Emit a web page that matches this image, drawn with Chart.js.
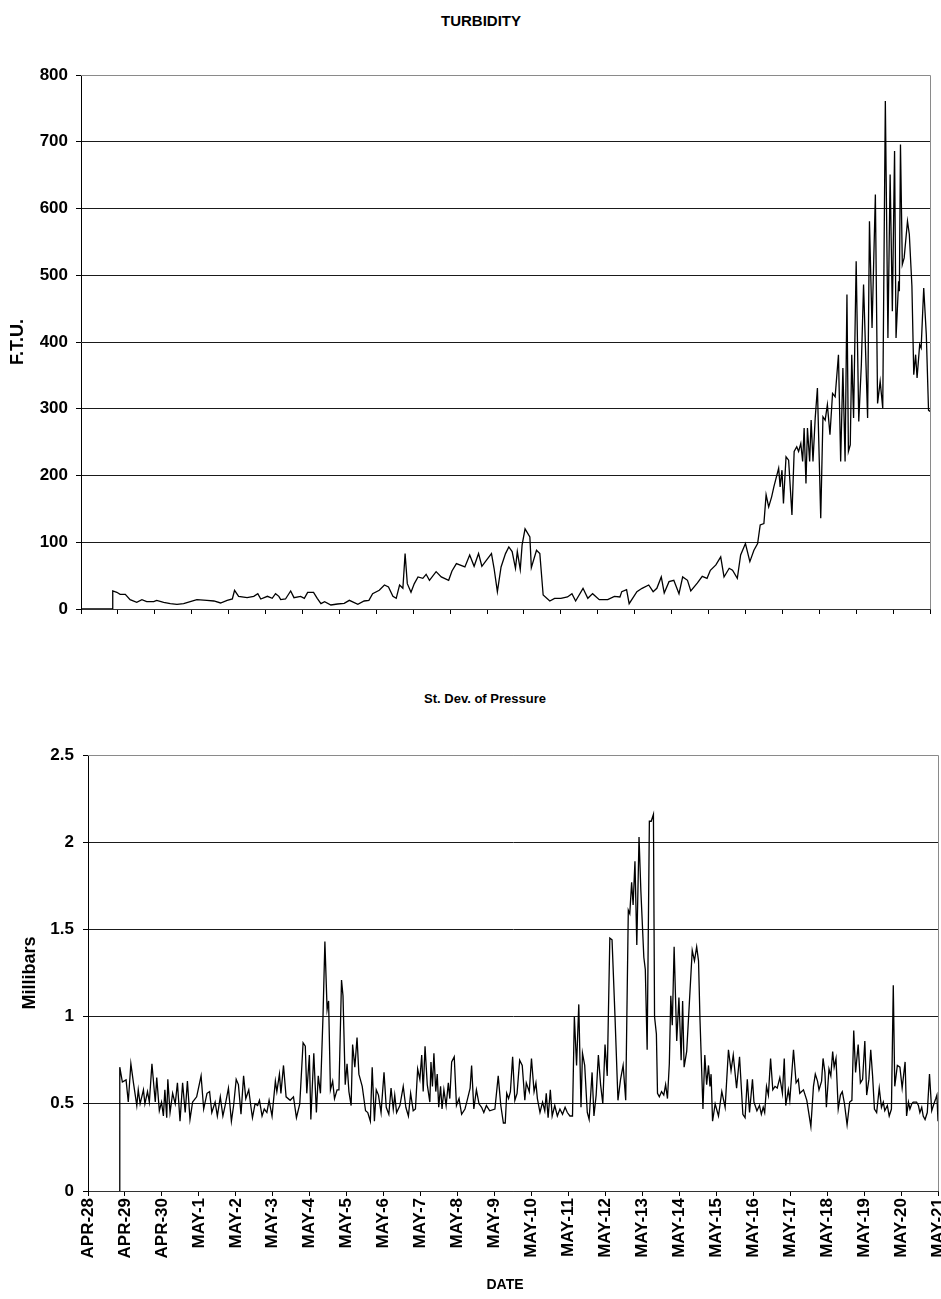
<!DOCTYPE html>
<html>
<head>
<meta charset="utf-8">
<script src="https://cdn.jsdelivr.net/npm/chart.js@4.4.1/dist/chart.umd.min.js"></script>
<style>
    body { margin: 0; background: #fff; width: 941px; height: 1299px; position: relative; overflow: hidden; }
    .titulo { position: absolute; font-family: "Liberation Sans", Arial, sans-serif; font-weight: bold; color: #000; transform: translateX(-50%); white-space: nowrap; }
    canvas { position: absolute; left: 0; }
</style>
</head>
<body>
<div class="titulo" style="left:481px; top:12px; font-size:15px;">TURBIDITY</div>
<canvas id="chart-turb" width="941" height="640" style="top:0"></canvas>
<div class="titulo" style="left:485px; top:691px; font-size:13px;">St. Dev. of Pressure</div>
<canvas id="chart-pres" width="941" height="659" style="top:640px"></canvas>
<div class="titulo" style="left:505px; top:1276px; font-size:14px;">DATE</div>

<script>
/* ============================================================
   DATOS (días desde APR-28)
============================================================ */
const DATE_LABELS = [
    "APR-28","APR-29","APR-30","MAY-1","MAY-2","MAY-3","MAY-4","MAY-5",
    "MAY-6","MAY-7","MAY-8","MAY-9","MAY-10","MAY-11","MAY-12","MAY-13",
    "MAY-14","MAY-15","MAY-16","MAY-17","MAY-18","MAY-19","MAY-20","MAY-21"
];

const TURB_DAYS = [
    0,0.84,0.86,0.97,1.06,1.2,1.33,1.51,1.65,1.78,1.97,2.05,2.24,2.42,2.6,2.78,2.96,3.14,3.41,3.6,
    3.78,3.96,4.1,4.16,4.27,4.5,4.68,4.79,4.87,5.05,5.18,5.27,5.36,5.41,5.54,5.68,5.77,5.95,6.05,6.14,
    6.3,6.4,6.5,6.6,6.77,6.95,7.13,7.27,7.5,7.67,7.8,7.9,8.08,8.22,8.33,8.45,8.54,8.63,8.72,8.78,
    8.84,8.94,9.03,9.13,9.26,9.35,9.44,9.62,9.76,9.96,10.05,10.17,10.4,10.53,10.65,10.77,10.86,10.98,11.12,11.19,
    11.28,11.38,11.5,11.59,11.68,11.77,11.82,11.9,11.95,12.03,12.16,12.2,12.34,12.43,12.52,12.7,12.83,13.0,13.18,13.3,
    13.4,13.6,13.73,13.86,14.04,14.27,14.45,14.6,14.65,14.78,14.85,15.06,15.2,15.38,15.5,15.6,15.72,15.8,15.93,16.06,
    16.2,16.3,16.43,16.52,16.7,16.83,16.96,17.05,17.2,17.33,17.42,17.56,17.65,17.78,17.87,18.0,18.12,18.23,18.33,18.4,
    18.5,18.56,18.63,18.71,18.77,18.9,18.94,18.99,19.03,19.1,19.17,19.26,19.32,19.39,19.44,19.5,19.55,19.59,19.64,19.68,
    19.74,19.78,19.83,19.89,19.95,20.04,20.1,20.16,20.22,20.29,20.36,20.43,20.52,20.58,20.64,20.7,20.75,20.79,20.84,20.88,
    20.93,21.0,21.07,21.14,21.2,21.31,21.36,21.43,21.52,21.58,21.65,21.72,21.79,21.86,21.92,21.98,22.04,22.08,22.15,22.17,
    22.2,22.25,22.3,22.39,22.44,22.51,22.56,22.61,22.65,22.72,22.76,22.83,22.9,22.96,23.0
];
const TURB_FTU = [
    0,0,27,25,22,22,14,10,14,11,11,13,10,8,7,8,11,14,13,12,
    9,13,15,28,19,17,19,23,15,19,16,23,19,14,15,27,17,19,16,25,
    25,16,8,11,6,7.5,8.5,13,7,12,13,23,28,36,33,19,16,36,31,83,
    38,25,38,48,46,52,43,56,48,43,57,68,63,81,64,83,64,73,83,61,
    26,63,83,93,86,61,86,59,96,120,108,62,88,83,21,12,16,16,18,23,
    12,31,16,23,14,14,19,18,26,29,8,26,31,36,26,31,48,24,41,43,
    23,48,43,27,39,49,46,58,66,78,48,61,58,46,81,98,71,88,98,126,
    128,171,153,168,183,211,183,208,158,228,223,141,236,243,236,248,221,271,188,271,
    221,283,221,286,331,136,288,283,306,261,323,318,381,221,361,221,471,236,246,381,
    286,521,281,366,486,286,581,421,621,308,341,301,761,406,651,446,686,406,491,476,
    696,516,526,581,561,484,351,381,346,396,391,481,411,298,296
];

const PRES_DAYS = [
    0.84,0.86,0.93,1.03,1.09,1.16,1.23,1.32,1.36,1.41,1.5,1.54,1.61,1.66,1.73,1.82,1.86,1.93,1.99,
    2.04,2.08,2.13,2.16,2.22,2.29,2.36,2.42,2.49,2.56,2.63,2.69,2.76,2.83,2.94,3.06,3.13,3.22,3.29,3.35,
    3.44,3.5,3.58,3.65,3.71,3.8,3.88,3.94,4.01,4.07,4.14,4.21,4.27,4.35,4.41,4.45,4.52,4.59,4.64,4.71,
    4.77,4.84,4.9,4.98,5.07,5.11,5.18,5.22,5.29,5.36,5.47,5.56,5.64,5.73,5.82,5.88,5.92,5.99,6.03,6.11,
    6.18,6.23,6.29,6.36,6.41,6.47,6.51,6.56,6.62,6.67,6.74,6.79,6.86,6.9,6.96,7.01,7.06,7.12,7.16,7.22,
    7.28,7.33,7.42,7.51,7.57,7.64,7.69,7.75,7.8,7.86,7.93,8.01,8.07,8.14,8.2,8.26,8.3,8.35,8.44,8.53,
    8.6,8.67,8.73,8.8,8.86,8.92,8.98,9.03,9.07,9.12,9.18,9.25,9.28,9.32,9.36,9.41,9.45,9.49,9.54,9.58,
    9.63,9.69,9.75,9.79,9.84,9.91,9.97,10.04,10.11,10.2,10.26,10.34,10.38,10.44,10.51,10.58,10.65,10.71,10.78,10.87,
    11.01,11.1,11.17,11.24,11.29,11.33,11.38,11.43,11.49,11.55,11.61,11.68,11.75,11.82,11.86,11.94,12.0,12.07,12.12,12.16,
    12.23,12.3,12.36,12.4,12.45,12.51,12.56,12.63,12.7,12.77,12.84,12.91,12.97,13.04,13.11,13.16,13.22,13.28,13.34,13.38,
    13.44,13.51,13.56,13.64,13.69,13.75,13.81,13.87,13.93,13.99,14.05,14.12,14.18,14.26,14.34,14.41,14.48,14.55,14.62,14.66,
    14.71,14.75,14.8,14.85,14.91,14.96,15.04,15.08,15.13,15.19,15.24,15.3,15.33,15.38,15.41,15.46,15.52,15.58,15.63,15.68,
    15.73,15.77,15.81,15.86,15.93,15.99,16.05,16.09,16.13,16.2,16.27,16.35,16.41,16.47,16.52,16.56,16.64,16.69,16.74,16.79,
    16.83,16.86,16.9,16.97,17.06,17.15,17.24,17.33,17.4,17.46,17.55,17.63,17.72,17.78,17.84,17.9,17.98,18.02,18.1,18.17,
    18.22,18.27,18.31,18.36,18.41,18.47,18.53,18.59,18.65,18.72,18.79,18.84,18.88,18.95,18.99,19.09,19.16,19.22,19.26,19.36,
    19.45,19.56,19.63,19.68,19.74,19.78,19.85,19.89,19.94,19.98,20.05,20.1,20.15,20.19,20.24,20.3,20.36,20.41,20.47,20.54,
    20.61,20.67,20.72,20.77,20.84,20.9,20.96,21.02,21.07,21.13,21.18,21.23,21.28,21.34,21.41,21.47,21.52,21.56,21.63,21.68,
    21.74,21.79,21.83,21.9,21.97,22.03,22.11,22.15,22.2,22.24,22.29,22.33,22.38,22.42,22.47,22.51,22.56,22.6,22.65,22.71,
    22.77,22.83,22.89,22.94,22.97,23.0
];
const PRES_MBAR = [
    0,0.71,0.625,0.637,0.51,0.73,0.62,0.49,0.58,0.5,0.58,0.5,0.57,0.51,0.73,0.51,0.65,0.46,0.51,
    0.43,0.58,0.42,0.64,0.45,0.56,0.5,0.62,0.40,0.62,0.45,0.63,0.41,0.51,0.54,0.66,0.47,0.56,0.57,0.45,
    0.51,0.43,0.54,0.43,0.49,0.59,0.40,0.49,0.64,0.61,0.44,0.66,0.53,0.58,0.48,0.42,0.5,0.49,0.52,0.43,
    0.47,0.45,0.52,0.43,0.63,0.57,0.67,0.56,0.72,0.54,0.52,0.54,0.42,0.5,0.85,0.83,0.56,0.78,0.41,0.79,
    0.45,0.66,0.56,1.01,1.43,1.04,1.09,0.58,0.63,0.53,0.58,0.58,1.21,1.12,0.61,0.73,0.57,0.49,0.84,0.71,
    0.88,0.67,0.6,0.46,0.45,0.40,0.71,0.40,0.58,0.55,0.45,0.68,0.48,0.44,0.59,0.47,0.55,0.45,0.49,0.6,
    0.48,0.43,0.56,0.46,0.47,0.70,0.64,0.78,0.57,0.83,0.61,0.51,0.74,0.6,0.79,0.57,0.67,0.48,0.6,0.47,
    0.58,0.49,0.62,0.53,0.74,0.77,0.49,0.53,0.44,0.47,0.52,0.59,0.72,0.47,0.58,0.5,0.48,0.45,0.49,0.46,
    0.47,0.66,0.49,0.39,0.39,0.56,0.53,0.57,0.77,0.52,0.56,0.75,0.72,0.52,0.62,0.57,0.76,0.57,0.62,0.53,
    0.45,0.51,0.46,0.56,0.42,0.58,0.43,0.49,0.43,0.47,0.44,0.48,0.45,0.43,0.43,1.0,0.72,1.07,0.48,0.79,
    0.72,0.45,0.41,0.68,0.43,0.55,0.78,0.61,0.5,0.84,0.66,1.45,1.44,1.0,0.52,0.64,0.72,0.52,1.61,1.59,
    1.77,1.64,1.89,1.41,2.03,1.72,1.34,1.27,0.81,2.12,2.12,2.16,1.0,0.9,0.56,0.54,0.57,0.55,0.61,0.53,
    0.73,1.12,0.95,1.4,0.86,1.11,0.75,1.09,0.71,0.8,1.07,1.38,1.32,1.4,1.32,0.98,0.47,0.78,0.61,0.72,
    0.6,0.67,0.4,0.5,0.43,0.57,0.48,0.81,0.69,0.78,0.59,0.77,0.44,0.42,0.64,0.45,0.64,0.51,0.46,0.49,
    0.44,0.48,0.45,0.6,0.55,0.76,0.58,0.6,0.59,0.65,0.56,0.76,0.49,0.58,0.52,0.81,0.62,0.64,0.56,0.58,
    0.52,0.37,0.6,0.67,0.63,0.58,0.63,0.76,0.68,0.48,0.7,0.66,0.8,0.71,0.76,0.47,0.55,0.57,0.5,0.38,
    0.51,0.52,0.92,0.68,0.84,0.62,0.64,0.86,0.55,0.64,0.81,0.66,0.47,0.45,0.59,0.48,0.51,0.46,0.49,0.43,
    0.47,1.18,0.6,0.72,0.71,0.59,0.74,0.43,0.51,0.47,0.5,0.51,0.51,0.51,0.49,0.45,0.48,0.43,0.41,0.45,
    0.67,0.46,0.5,0.53,0.55,0.4
];

/* ============================================================
   ESTILO COMÚN
============================================================ */
const FUENTE = "'Liberation Sans', Arial, sans-serif";
Chart.defaults.font.family = FUENTE;
Chart.defaults.color = "#000";

// marco gris arriba y a la derecha del área de trazado
const marcoGris = {
    id: "marcoGris",
    afterDraw(chart) {
        const { ctx, chartArea: a } = chart;
        ctx.save();
        ctx.strokeStyle = "#8a8a8a";
        ctx.lineWidth = 1;
        ctx.beginPath();
        ctx.moveTo(a.left, a.top + 0.5);
        ctx.lineTo(a.right + 0.5, a.top + 0.5);
        ctx.lineTo(a.right + 0.5, a.bottom);
        ctx.stroke();
        ctx.restore();
    }
};

function toPoints(xs, ys) {
    return xs.map((x, i) => ({ x, y: ys[i] }));
}

function crearGrafico(id, cfg) {
    const ctx = document.getElementById(id);
    return new Chart(ctx, {
        type: "line",
        data: {
            datasets: [{
                data: toPoints(cfg.xs, cfg.ys),
                borderColor: "#000",
                borderWidth: 1.3,
                pointRadius: 0,
                tension: 0,
                fill: false
            }]
        },
        options: {
            responsive: false,
            animation: false,
            devicePixelRatio: 1,
            layout: { padding: cfg.padding },
            plugins: { legend: { display: false }, tooltip: { enabled: false } },
            scales: {
                x: {
                    type: "linear",
                    min: 0,
                    max: 23,
                    afterFit: s => {
                        s.height = cfg.xHeight;
                        s.paddingLeft = 0;
                        s.paddingRight = 0;
                    },
                    afterBuildTicks: s => { s.ticks = DATE_LABELS.map((_, i) => ({ value: i })); },
                    grid: { drawOnChartArea: false, drawTicks: true, tickLength: 5, color: "#000" },
                    border: { color: "#333", width: 1 },
                    ticks: {
                        display: cfg.showDates,
                        autoSkip: false,
                        maxRotation: 90,
                        minRotation: 90,
                        padding: 2,
                        font: { size: 17, weight: "bold" },
                        callback: v => DATE_LABELS[v]
                    }
                },
                y: {
                    min: 0,
                    max: cfg.yMax,
                    afterFit: s => { s.width = cfg.yWidth; },
                    grid: {
                        color: c => c.tick.value === cfg.yMax ? "#8a8a8a" : "#1a1a1a",
                        lineWidth: 1,
                        tickLength: 5,
                        tickColor: "#000"
                    },
                    border: { color: "#000", width: 1 },
                    ticks: {
                        stepSize: cfg.yStep,
                        padding: cfg.yPad,
                        font: { size: 17, weight: "bold" },
                        callback: v => String(v)
                    },
                    title: {
                        display: true,
                        text: cfg.yTitle,
                        font: { size: 18, weight: "bold" },
                        padding: { top: cfg.yTitlePad, bottom: 0 }
                    }
                }
            }
        },
        plugins: [marcoGris]
    });
}

crearGrafico("chart-turb", {
    xs: TURB_DAYS, ys: TURB_FTU,
    padding: { top: 75, left: 0, right: 11, bottom: 0 },
    xHeight: 31, yWidth: 81, yPad: 8,
    yMax: 800, yStep: 100,
    yTitle: "F.T.U.", yTitlePad: 7,
    showDates: false
});

crearGrafico("chart-pres", {
    xs: PRES_DAYS, ys: PRES_MBAR,
    padding: { top: 115, left: 0, right: 3, bottom: 0 },
    xHeight: 108, yWidth: 88, yPad: 9,
    yMax: 2.5, yStep: 0.5,
    yTitle: "Millibars", yTitlePad: 19,
    showDates: true
});
</script>
</body>
</html>
